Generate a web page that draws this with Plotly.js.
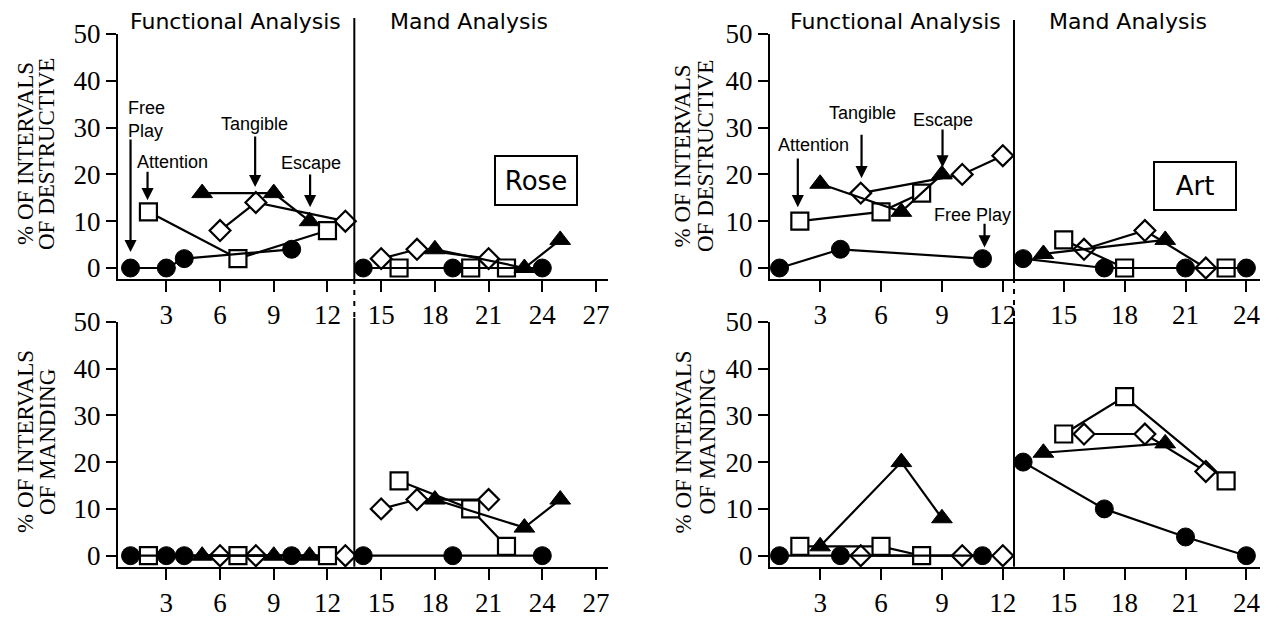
<!DOCTYPE html>
<html>
<head>
<meta charset="utf-8">
<script src="https://cdn.plot.ly/plotly-3.0.1.min.js"></script>
<style>html,body{margin:0;padding:0;background:#fff;}#chart{width:1279px;height:619px;}</style>
</head>
<body>
<div id="chart"></div>
<script>
// ---------------- DATA ----------------
// Rose – Functional Analysis (sessions 1-13)
const roseFreeFA_x = [1, 3, 4, 10];
const roseFreeFA_dest = [0, 0, 2, 4];
const roseFreeFA_mand = [0, 0, 0, 0];
const roseAttnFA_x = [2, 7, 12];
const roseAttnFA_dest = [12, 2, 8];
const roseAttnFA_mand = [0, 0, 0];
const roseTangFA_x = [6, 8, 13];
const roseTangFA_dest = [8, 14, 10];
const roseTangFA_mand = [0, 0, 0];
const roseEscFA_x = [5, 9, 11];
const roseEscFA_dest = [16, 16, 10];
const roseEscFA_mand = [0, 0, 0];
// Rose – Mand Analysis (sessions 14-25)
const roseFreeMA_x = [14, 19, 24];
const roseFreeMA_dest = [0, 0, 0];
const roseFreeMA_mand = [0, 0, 0];
const roseAttnMA_x = [16, 20, 22];
const roseAttnMA_dest = [0, 0, 0];
const roseAttnMA_mand = [16, 10, 2];
const roseTangMA_x = [15, 17, 21];
const roseTangMA_dest = [2, 4, 2];
const roseTangMA_mand = [10, 12, 12];
const roseEscMA_x = [18, 23, 25];
const roseEscMA_dest = [4, 0, 6];
const roseEscMA_mand = [12, 6, 12];

// Art – Functional Analysis (sessions 1-12)
const artFreeFA_x = [1, 4, 11];
const artFreeFA_dest = [0, 4, 2];
const artFreeFA_mand = [0, 0, 0];
const artAttnFA_x = [2, 6, 8];
const artAttnFA_dest = [10, 12, 16];
const artAttnFA_mand = [2, 2, 0];
const artTangFA_x = [5, 10, 12];
const artTangFA_dest = [16, 20, 24];
const artTangFA_mand = [0, 0, 0];
const artEscFA_x = [3, 7, 9];
const artEscFA_dest = [18, 12, 20];
const artEscFA_mand = [2, 20, 8];
// Art – Mand Analysis (sessions 13-24)
const artFreeMA_x = [13, 17, 21, 24];
const artFreeMA_dest = [2, 0, 0, 0];
const artFreeMA_mand = [20, 10, 4, 0];
const artAttnMA_x = [15, 18, 23];
const artAttnMA_dest = [6, 0, 0];
const artAttnMA_mand = [26, 34, 16];
const artTangMA_x = [16, 19, 22];
const artTangMA_dest = [4, 8, 0];
const artTangMA_mand = [26, 26, 18];
const artEscMA_x = [14, 20];
const artEscMA_dest = [3, 6];
const artEscMA_mand = [22, 24];

const yTickVals = [0, 10, 20, 30, 40, 50];
const roseXTicks = [3, 6, 9, 12, 15, 18, 21, 24, 27];
const artXTicks = [3, 6, 9, 12, 15, 18, 21, 24];
const phaseLabels = ['Functional Analysis', 'Mand Analysis'];
const yTitleTop = ['% OF INTERVALS', 'OF DESTRUCTIVE'];
const yTitleBottom = ['% OF INTERVALS', 'OF MANDING'];

// ---------------- STYLE ----------------
const W = 1279, H = 619;
const px = x => x / W;
const py = y => 1 - y / H;

const styles = {
  free: {symbol: 'circle', size: 18, color: '#000', line: {color: '#000', width: 1}},
  attn: {symbol: 'square', size: 17, color: '#fff', line: {color: '#000', width: 2.2}},
  tang: {symbol: 'diamond', size: 16, color: '#fff', line: {color: '#000', width: 2.2}},
  esc:  {symbol: 'triangle-up', size: 18, color: '#000', line: {color: '#000', width: 1}}
};
const names = {free: 'Free Play', attn: 'Attention', tang: 'Tangible', esc: 'Escape'};

const traces = [];
function add(xs, ys, key, xa, ya) {
  traces.push({
    x: xs, y: ys, xaxis: xa, yaxis: ya, type: 'scatter', mode: 'lines+markers',
    name: names[key], showlegend: false, cliponaxis: false, hoverinfo: 'x+y+name',
    line: {color: '#000', width: 2.2},
    marker: styles[key]
  });
}
// order: tangible, attention, escape, free play
const order = ['tang', 'attn', 'esc', 'free'];
const rose = {
  tang: [[roseTangFA_x, roseTangFA_dest, roseTangFA_mand], [roseTangMA_x, roseTangMA_dest, roseTangMA_mand]],
  attn: [[roseAttnFA_x, roseAttnFA_dest, roseAttnFA_mand], [roseAttnMA_x, roseAttnMA_dest, roseAttnMA_mand]],
  esc:  [[roseEscFA_x, roseEscFA_dest, roseEscFA_mand], [roseEscMA_x, roseEscMA_dest, roseEscMA_mand]],
  free: [[roseFreeFA_x, roseFreeFA_dest, roseFreeFA_mand], [roseFreeMA_x, roseFreeMA_dest, roseFreeMA_mand]]
};
const art = {
  tang: [[artTangFA_x, artTangFA_dest, artTangFA_mand], [artTangMA_x, artTangMA_dest, artTangMA_mand]],
  attn: [[artAttnFA_x, artAttnFA_dest, artAttnFA_mand], [artAttnMA_x, artAttnMA_dest, artAttnMA_mand]],
  esc:  [[artEscFA_x, artEscFA_dest, artEscFA_mand], [artEscMA_x, artEscMA_dest, artEscMA_mand]],
  free: [[artFreeFA_x, artFreeFA_dest, artFreeFA_mand], [artFreeMA_x, artFreeMA_dest, artFreeMA_mand]]
};
order.forEach(k => rose[k].forEach(s => { add(s[0], s[1], k, 'x', 'y'); }));
order.forEach(k => rose[k].forEach(s => { add(s[0], s[2], k, 'x2', 'y2'); }));
order.forEach(k => art[k].forEach(s => { add(s[0], s[1], k, 'x3', 'y3'); }));
order.forEach(k => art[k].forEach(s => { add(s[0], s[2], k, 'x4', 'y4'); }));

const tickFont = {family: 'Liberation Serif, Times New Roman, serif', size: 27, color: '#000'};
function xax(dom, anchor, rng, ticks) {
  return {domain: dom, anchor: anchor, range: rng, tickmode: 'array', tickvals: ticks,
    ticks: 'outside', ticklen: 11, tickwidth: 2, tickcolor: '#000', showline: true, linewidth: 2,
    linecolor: '#000', showgrid: false, zeroline: false, tickfont: tickFont, fixedrange: true};
}
function yax(dom, anchor) {
  return {domain: dom, anchor: anchor, range: [-2.35, 50], tickmode: 'array', tickvals: yTickVals,
    ticks: 'outside', ticklen: 10, tickwidth: 2, tickcolor: '#000', showline: true, linewidth: 2,
    linecolor: '#000', showgrid: false, zeroline: false, tickfont: tickFont, fixedrange: true};
}
const leftDom = [px(118), px(608)];
const rightDom = [px(770), px(1260)];
const topDom = [py(279), py(34)];
const botDom = [py(566.7), py(321.7)];

const roseRange = [0.3, 27.67];
const artRange = [0.53, 24.67];
const rosePhase = 13.5;
const artPhase = 12.55;

const shapes = [];
function phaseLine(xref, xv, y0, y1, dash) {
  shapes.push({type: 'line', xref: xref, yref: 'paper', x0: xv, x1: xv, y0: py(y0), y1: py(y1),
    line: {color: '#000', width: 2, dash: dash || 'solid'}});
}
phaseLine('x', rosePhase, 279, 18);
phaseLine('x', rosePhase, 279, 318, '5px,6px');
phaseLine('x2', rosePhase, 566.7, 318);
phaseLine('x3', artPhase, 278, 20);
phaseLine('x3', artPhase, 278, 318, '5px,6px');
phaseLine('x4', artPhase, 566.7, 318);

const annFont = {family: 'Liberation Sans, Arial, sans-serif', size: 18, color: '#000'};
const phaseFont = {family: 'DejaVu Sans, Verdana, sans-serif', size: 22, color: '#000'};
const serifTitle = {family: 'Liberation Serif, Times New Roman, serif', size: 23, color: '#000'};
const annotations = [];
function paperText(text, x, y, font, extra) {
  annotations.push(Object.assign({text: text, xref: 'paper', yref: 'paper', x: px(x), y: py(y),
    showarrow: false, font: font, xanchor: 'center', yanchor: 'middle'}, extra || {}));
}
// phase labels
paperText(phaseLabels[0], 235.5, 22, phaseFont);
paperText(phaseLabels[1], 469, 22, phaseFont);
paperText(phaseLabels[0], 895, 22, phaseFont);
paperText(phaseLabels[1], 1127.5, 22, phaseFont);
// y titles
[[25, 46, 154, yTitleTop], [25, 47, 442, yTitleBottom], [682.5, 706, 156, yTitleTop], [682.5, 706.5, 442, yTitleBottom]]
  .forEach(t => {
    paperText(t[3][0], t[0], t[2], serifTitle, {textangle: -90});
    paperText(t[3][1], t[1], t[2], serifTitle, {textangle: -90});
  });

// condition labels with arrows (data coords)
function label(xa, ya, text, x, y, xanchor, align) {
  annotations.push({xref: xa, yref: ya, x: x, y: y, text: text, showarrow: false, font: annFont,
    xanchor: xanchor || 'center', yanchor: 'middle', align: align || 'center'});
}
function arrow(xa, ya, x, yTail, yHead) {
  annotations.push({xref: xa, yref: ya, axref: xa, ayref: ya, x: x, y: yHead, ax: x, ay: yTail,
    text: '', showarrow: true, arrowhead: 2, arrowsize: 1.1, arrowwidth: 2.2, arrowcolor: '#000',
    standoff: 0, startstandoff: 0});
}
label('x', 'y', 'Free<br>Play', 0.72, 31.8, 'left', 'left');
arrow('x', 'y', 1, 27.8, 3.4);
label('x', 'y', 'Attention', 3.37, 22.6);
arrow('x', 'y', 1.95, 20.9, 14.5);
label('x', 'y', 'Tangible', 7.94, 30.8);
arrow('x', 'y', 7.96, 28.4, 17.3);
label('x', 'y', 'Escape', 11.08, 22.4);
arrow('x', 'y', 11.03, 20.3, 13.0);

label('x3', 'y3', 'Attention', 2.65, 26.2);
arrow('x3', 'y3', 1.9, 23.7, 13.0);
label('x3', 'y3', 'Tangible', 5.08, 33.1);
arrow('x3', 'y3', 5.04, 28.8, 19.2);
label('x3', 'y3', 'Escape', 9.05, 31.6);
arrow('x3', 'y3', 9.03, 29.9, 21.5);
label('x3', 'y3', 'Free Play', 10.53, 11.3);
arrow('x3', 'y3', 11.1, 9.8, 4.4);

// participant boxes
const boxFont = {family: 'DejaVu Sans, Verdana, sans-serif', size: 26, color: '#000'};
annotations.push({xref: 'x', yref: 'y', x: 23.65, y: 18.6, text: 'Rose', showarrow: false, font: boxFont,
  bordercolor: '#000', borderwidth: 2, borderpad: 0, width: 80, height: 47, bgcolor: '#fff'});
annotations.push({xref: 'x3', yref: 'y3', x: 21.45, y: 17.5, text: 'Art', showarrow: false, font: boxFont,
  bordercolor: '#000', borderwidth: 2, borderpad: 0, width: 80, height: 46, bgcolor: '#fff'});

const layout = {
  width: W, height: H, margin: {l: 0, r: 0, t: 0, b: 0},
  paper_bgcolor: '#fff', plot_bgcolor: 'rgba(0,0,0,0)', showlegend: false,
  xaxis: xax(leftDom, 'y', roseRange, roseXTicks),
  yaxis: yax(topDom, 'x'),
  xaxis2: xax(leftDom, 'y2', roseRange, roseXTicks),
  yaxis2: yax(botDom, 'x2'),
  xaxis3: xax(rightDom, 'y3', artRange, artXTicks),
  yaxis3: yax(topDom, 'x3'),
  xaxis4: xax(rightDom, 'y4', artRange, artXTicks),
  yaxis4: yax(botDom, 'x4'),
  shapes: shapes, annotations: annotations
};
Plotly.newPlot('chart', traces, layout, {displayModeBar: false, staticPlot: true});
</script>
</body>
</html>
